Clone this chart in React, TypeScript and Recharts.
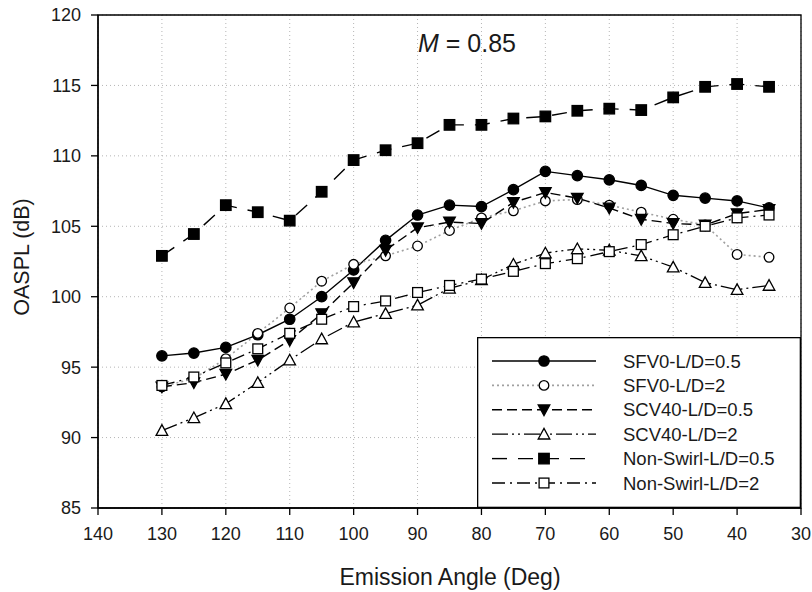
import React from 'react';
import { LineChart, Line, XAxis, YAxis, CartesianGrid, ReferenceArea, Legend, Customized } from 'recharts';

const angles = [130, 125, 120, 115, 110, 105, 100, 95, 90, 85, 80, 75, 70, 65, 60, 55, 50, 45, 40, 35];
const sfv0_05 = [95.8, 96.0, 96.4, 97.3, 98.4, 100.0, 101.9, 104.0, 105.8, 106.5, 106.4, 107.6, 108.9, 108.6, 108.3, 107.9, 107.2, 107.0, 106.8, 106.3];
const sfv0_2 = [93.6, 94.2, 95.6, 97.4, 99.2, 101.1, 102.3, 102.9, 103.6, 104.7, 105.6, 106.1, 106.8, 106.9, 106.5, 106.0, 105.5, 105.1, 103.0, 102.8];
const scv40_05 = [93.6, 93.9, 94.5, 95.5, 96.9, 98.8, 101.0, 103.3, 104.9, 105.3, 105.2, 106.7, 107.4, 107.0, 106.3, 105.5, 105.2, 105.1, 105.9, 106.2];
const scv40_2 = [90.5, 91.4, 92.4, 93.9, 95.5, 97.0, 98.2, 98.8, 99.4, 100.6, 101.2, 102.3, 103.1, 103.4, 103.3, 102.9, 102.1, 101.0, 100.5, 100.8];
const ns_05 = [102.9, 104.45, 106.5, 106.0, 105.4, 107.45, 109.7, 110.4, 110.9, 112.2, 112.2, 112.65, 112.8, 113.2, 113.35, 113.25, 114.15, 114.9, 115.1, 114.9];
const ns_2 = [93.7, 94.3, 95.3, 96.3, 97.4, 98.4, 99.3, 99.7, 100.3, 100.8, 101.25, 101.8, 102.35, 102.7, 103.2, 103.7, 104.4, 105.0, 105.6, 105.8];

const xTicks = [140, 130, 120, 110, 100, 90, 80, 70, 60, 50, 40, 30];
const yTicks = [85, 90, 95, 100, 105, 110, 115, 120];

const FONT = '"Liberation Sans", Arial, Helvetica, sans-serif';
const TXT = '#1a1a1a';

type MarkerType = 'circle' | 'square' | 'tdown' | 'tup';

const series = [
  { key: 'sfv0_05', name: 'SFV0-L/D=0.5', values: sfv0_05, marker: 'circle' as MarkerType, filled: true, dash: undefined as string | undefined, color: '#000', width: 1.4 },
  { key: 'sfv0_2', name: 'SFV0-L/D=2', values: sfv0_2, marker: 'circle' as MarkerType, filled: false, dash: '2 3', color: '#a0a0a0', width: 1.6 },
  { key: 'scv40_05', name: 'SCV40-L/D=0.5', values: scv40_05, marker: 'tdown' as MarkerType, filled: true, dash: '10 5', color: '#000', width: 1.4 },
  { key: 'scv40_2', name: 'SCV40-L/D=2', values: scv40_2, marker: 'tup' as MarkerType, filled: false, dash: '16 4 2 4 2 4', color: '#000', width: 1.3 },
  { key: 'ns_05', name: 'Non-Swirl-L/D=0.5', values: ns_05, marker: 'square' as MarkerType, filled: true, dash: '15 11', color: '#000', width: 1.4 },
  { key: 'ns_2', name: 'Non-Swirl-L/D=2', values: ns_2, marker: 'square' as MarkerType, filled: false, dash: '13 5 2 5', color: '#000', width: 1.3 },
];

const data = angles.map((a, i) => {
  const row: Record<string, number> = { angle: a };
  series.forEach((s) => {
    row[s.key] = s.values[i];
  });
  return row;
});

function Marker({ type, filled, cx, cy }: { type: MarkerType; filled: boolean; cx: number; cy: number }) {
  const fill = filled ? '#000' : '#fff';
  const sw = 1.3;
  if (cx == null || cy == null || isNaN(cx) || isNaN(cy)) return null;
  switch (type) {
    case 'circle':
      return <circle cx={cx} cy={cy} r={filled ? 5.2 : 4.8} fill={fill} stroke="#000" strokeWidth={sw} />;
    case 'square': {
      const s = filled ? 10.5 : 9.8;
      return <rect x={cx - s / 2} y={cy - s / 2} width={s} height={s} fill={fill} stroke="#000" strokeWidth={sw} />;
    }
    case 'tdown':
      return (
        <polygon
          points={`${cx - 5.8},${cy - 4.8} ${cx + 5.8},${cy - 4.8} ${cx},${cy + 5.8}`}
          fill={fill}
          stroke="#000"
          strokeWidth={sw}
        />
      );
    case 'tup':
    default:
      return (
        <polygon
          points={`${cx - 5.8},${cy + 4.8} ${cx + 5.8},${cy + 4.8} ${cx},${cy - 5.8}`}
          fill={fill}
          stroke="#000"
          strokeWidth={sw}
        />
      );
  }
}

function LegendBox() {
  const w = 324;
  const h = 171;
  return (
    <svg width={w} height={h} style={{ display: 'block' }}>
      <rect x={0.65} y={0.65} width={w - 1.3} height={h - 1.3} fill="#fff" stroke="#000" strokeWidth={1.3} />
      {series.map((s, i) => {
        const y = 24 + i * 24.4;
        return (
          <g key={s.key}>
            <line x1={15} x2={119} y1={y} y2={y} stroke={s.color} strokeWidth={s.width} strokeDasharray={s.dash} />
            <Marker type={s.marker} filled={s.filled} cx={67} cy={y} />
            <text x={146} y={y + 6.5} fontSize={18.5} fontFamily={FONT} fill={TXT}>
              {s.name}
            </text>
          </g>
        );
      })}
    </svg>
  );
}

function Annotations() {
  return (
    <g>
      <text x={418} y={52} fontSize={25} fontFamily={FONT} fill={TXT}>
        <tspan fontStyle="italic">M</tspan>
        <tspan> = 0.85</tspan>
      </text>
      <text x={450} y={585} fontSize={23} fontFamily={FONT} fill={TXT} textAnchor="middle">
        Emission Angle (Deg)
      </text>
      <text
        x={28.7}
        y={257}
        fontSize={21.5}
        fontFamily={FONT}
        fill={TXT}
        textAnchor="middle"
        transform="rotate(-90, 28.7, 257)"
      >
        OASPL (dB)
      </text>
    </g>
  );
}

export default function App() {
  return (
    <div style={{ position: 'absolute', left: 0, top: 0, width: 812, height: 592, overflow: 'hidden' }}>
      <LineChart width={812} height={592} data={data} margin={{ top: 15, right: 11, left: 8, bottom: 0 }}>
        <CartesianGrid stroke="#b5b5b5" strokeDasharray="1 3" strokeWidth={1} />
        <XAxis
          dataKey="angle"
          type="number"
          domain={[30, 140]}
          reversed
          ticks={xTicks}
          interval={0}
          allowDataOverflow
          height={84}
          tickSize={7}
          tickMargin={12}
          stroke="#000"
          axisLine={{ stroke: '#000', strokeWidth: 1.3 }}
          tickLine={{ stroke: '#000', strokeWidth: 1.3 }}
          tick={{ fontSize: 18, fontFamily: FONT, fill: TXT }}
        />
        <YAxis
          type="number"
          domain={[85, 120]}
          ticks={yTicks}
          interval={0}
          allowDataOverflow
          width={90}
          tickSize={7}
          tickMargin={10}
          stroke="#000"
          axisLine={{ stroke: '#000', strokeWidth: 1.3 }}
          tickLine={{ stroke: '#000', strokeWidth: 1.3 }}
          tick={{ fontSize: 18, fontFamily: FONT, fill: TXT }}
        />
        <ReferenceArea
          x1={140}
          x2={30}
          y1={85}
          y2={120}
          fill="none"
          fillOpacity={0}
          stroke="#000"
          strokeWidth={1.3}
          ifOverflow="visible"
        />
        {series.map((s) => (
          <Line
            key={s.key}
            type="linear"
            dataKey={s.key}
            name={s.name}
            stroke={s.color}
            strokeWidth={s.width}
            strokeDasharray={s.dash}
            isAnimationActive={false}
            activeDot={false}
            dot={(p: any) => (
              <Marker key={`${s.key}-${p.index}`} type={s.marker} filled={s.filled} cx={p.cx} cy={p.cy} />
            )}
          />
        ))}
        <Legend
          layout="vertical"
          align="center"
          verticalAlign="middle"
          wrapperStyle={{ left: 477, top: 337, width: 324, height: 171, margin: 0, padding: 0 }}
          content={() => <LegendBox />}
        />
        <Customized component={() => <Annotations />} />
      </LineChart>
    </div>
  );
}
